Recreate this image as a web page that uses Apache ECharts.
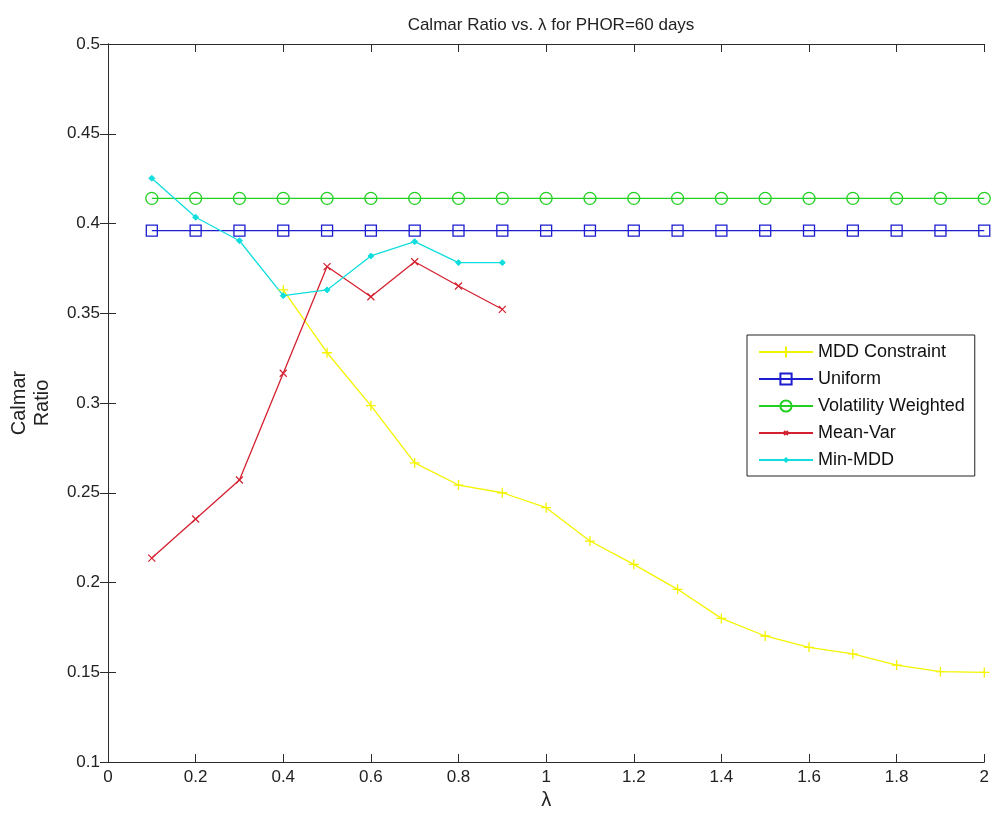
<!DOCTYPE html>
<html>
<head>
<meta charset="utf-8">
<script src="https://cdn.jsdelivr.net/npm/echarts@6/dist/echarts.min.js"></script>
<style>
  html, body { margin: 0; padding: 0; background: #ffffff; }
  #chart { width: 992px; height: 816px; }
</style>
</head>
<body>
<div id="chart"></div>
<script>
// lambda values on the x axis
const lambdas = [0.1, 0.2, 0.3, 0.4, 0.5, 0.6, 0.7, 0.8, 0.9, 1.0,
                 1.1, 1.2, 1.3, 1.4, 1.5, 1.6, 1.7, 1.8, 1.9, 2.0];

// Calmar ratio per strategy
const mddConstraint = [null, null, null, 0.363, 0.328, 0.2985, 0.2666, 0.2543, 0.250, 0.2417,
                       0.2231, 0.2101, 0.1962, 0.180, 0.1702, 0.1639, 0.1602, 0.154, 0.1503, 0.1499];
const uniform = [0.396, 0.396, 0.396, 0.396, 0.396, 0.396, 0.396, 0.396, 0.396, 0.396,
                 0.396, 0.396, 0.396, 0.396, 0.396, 0.396, 0.396, 0.396, 0.396, 0.396];
const volWeighted = [0.414, 0.414, 0.414, 0.414, 0.414, 0.414, 0.414, 0.414, 0.414, 0.414,
                     0.414, 0.414, 0.414, 0.414, 0.414, 0.414, 0.414, 0.414, 0.414, 0.414];
const meanVar = [0.2136, 0.2354, 0.2571, 0.3166, 0.376, 0.3592, 0.3787, 0.3652, 0.3522];
const minMdd = [0.4252, 0.4035, 0.3904, 0.3598, 0.363, 0.3819, 0.3899, 0.3782, 0.3782];

// axis ticks
const xTicks = [0, 0.2, 0.4, 0.6, 0.8, 1, 1.2, 1.4, 1.6, 1.8, 2];
const yTicks = [0.1, 0.15, 0.2, 0.25, 0.3, 0.35, 0.4, 0.45, 0.5];

const FONT = '"Liberation Sans", Arial, sans-serif';
const AXIS_COLOR = '#2b2b2b';

function pairs(values) {
  return values.map((v, i) => [lambdas[i], v]);
}

const fmt = v => String(Math.round(v * 100) / 100);

const baseAxis = {
  type: 'value',
  axisLine: { show: true, lineStyle: { color: AXIS_COLOR, width: 1 } },
  axisTick: { show: true, inside: true, length: 8, lineStyle: { color: AXIS_COLOR } },
  splitLine: { show: false }
};

const xRange = { min: xTicks[0], max: xTicks[xTicks.length - 1], interval: xTicks[1] - xTicks[0] };
const yRange = { min: yTicks[0], max: yTicks[yTicks.length - 1], interval: yTicks[1] - yTicks[0] };

// marker shapes; the leading moves pad the box so small glyphs stay small in the legend too
const plusSym = 'path://M5,0L5,10M0,5L10,5';
const crossSym = 'path://M0,0M20,20M6.5,6.5L13.5,13.5M13.5,6.5L6.5,13.5';
const dotSym = 'path://M0,0M20,20M10,7L13,10L10,13L7,10Z';

const chart = echarts.init(document.getElementById('chart'), null, { renderer: 'canvas' });
chart.setOption({
  animation: false,
  backgroundColor: '#ffffff',
  title: {
    text: 'Calmar Ratio vs. λ for PHOR=60 days',
    left: 546, top: 12, textAlign: 'center',
    textStyle: { fontFamily: FONT, fontSize: 17, fontWeight: 'normal', color: '#222' }
  },
  grid: { left: 107, right: 7, top: 44, bottom: 54, containLabel: false },
  legend: {
    orient: 'vertical',
    left: 747, top: 335,
    padding: [8, 10, 7, 11],
    itemWidth: 54, itemHeight: 14, itemGap: 9,
    borderColor: '#222', borderWidth: 1,
    backgroundColor: '#ffffff',
    textStyle: { fontFamily: FONT, fontSize: 18, color: '#111' },
    data: ['MDD Constraint', 'Uniform', 'Volatility Weighted', 'Mean-Var', 'Min-MDD']
  },
  xAxis: [
    Object.assign({}, baseAxis, xRange, {
      position: 'bottom',
      name: 'λ', nameLocation: 'middle', nameGap: 28,
      nameTextStyle: { fontFamily: FONT, fontSize: 20, color: '#222' },
      axisLabel: { margin: 7, fontFamily: FONT, fontSize: 17, color: '#222', formatter: fmt }
    }),
    Object.assign({}, baseAxis, xRange, { position: 'top', axisLabel: { show: false } })
  ],
  yAxis: [
    Object.assign({}, baseAxis, yRange, {
      position: 'left',
      name: 'Calmar\nRatio', nameLocation: 'middle', nameGap: 54,
      nameTextStyle: { fontFamily: FONT, fontSize: 20, color: '#222', lineHeight: 23 },
      axisLabel: { margin: 8, fontFamily: FONT, fontSize: 17, color: '#222', formatter: fmt }
    }),
    Object.assign({}, baseAxis, yRange, { position: 'right', axisLabel: { show: false } })
  ],
  series: [
    {
      name: 'MDD Constraint', type: 'line', data: pairs(mddConstraint),
      symbol: plusSym, symbolSize: 10,
      lineStyle: { color: '#f4f400', width: 1.3 },
      itemStyle: { color: 'rgba(0,0,0,0)', borderColor: '#f4f400', borderWidth: 1.3 }
    },
    {
      name: 'Uniform', type: 'line', data: pairs(uniform),
      symbol: 'rect', symbolSize: 11,
      lineStyle: { color: '#1c1cd0', width: 1.3 },
      itemStyle: { color: 'rgba(0,0,0,0)', borderColor: '#1c1cd0', borderWidth: 1.3 }
    },
    {
      name: 'Volatility Weighted', type: 'line', data: pairs(volWeighted),
      symbol: 'circle', symbolSize: 12,
      lineStyle: { color: '#22d022', width: 1.3 },
      itemStyle: { color: 'rgba(0,0,0,0)', borderColor: '#22d022', borderWidth: 1.3 }
    },
    {
      name: 'Mean-Var', type: 'line', data: pairs(meanVar),
      symbol: crossSym, symbolSize: 20,
      lineStyle: { color: '#d42030', width: 1.3 },
      itemStyle: { color: 'rgba(0,0,0,0)', borderColor: '#d42030', borderWidth: 1.2 }
    },
    {
      name: 'Min-MDD', type: 'line', data: pairs(minMdd),
      symbol: dotSym, symbolSize: 20,
      lineStyle: { color: '#10dede', width: 1.3 },
      itemStyle: { color: '#10dede', borderColor: '#10dede', borderWidth: 1 }
    }
  ]
});
</script>
</body>
</html>
